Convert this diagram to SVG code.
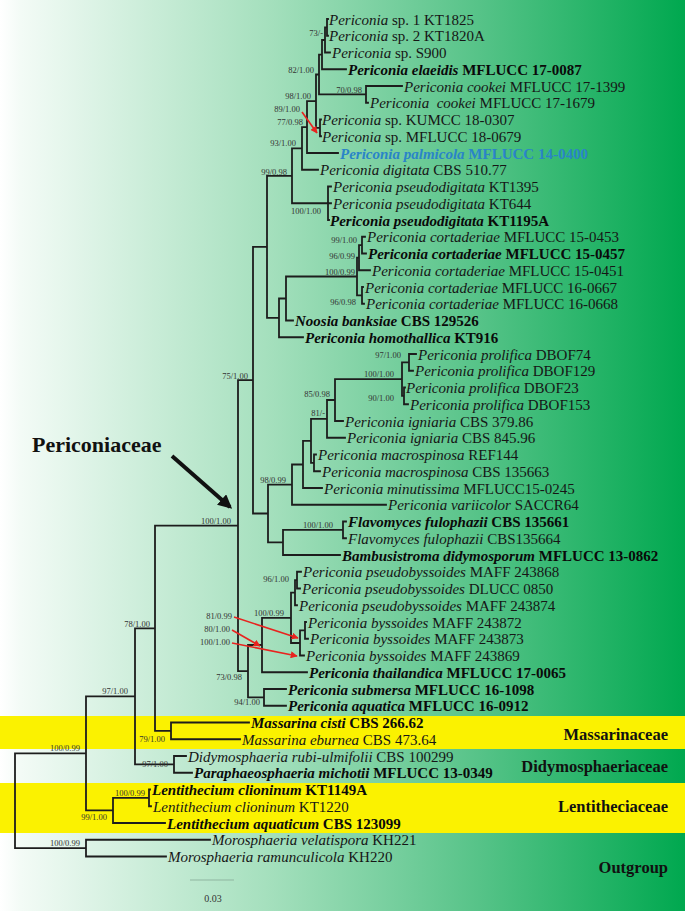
<svg xmlns="http://www.w3.org/2000/svg" width="685" height="911" viewBox="0 0 685 911">
<defs>
<linearGradient id="bg" x1="0" y1="0" x2="1" y2="0">
<stop offset="0" stop-color="#ffffff"/>
<stop offset="0.03" stop-color="#f3fbf6"/>
<stop offset="0.4" stop-color="#a3dfbc"/>
<stop offset="0.7" stop-color="#56c388"/>
<stop offset="1" stop-color="#00a84f"/>
</linearGradient>
<marker id="rh" viewBox="0 0 10 10" refX="9" refY="5" markerWidth="7" markerHeight="7" orient="auto" markerUnits="userSpaceOnUse">
<path d="M0,0 L10,5 L0,10 z" fill="#e8231f"/>
</marker>
<marker id="bh" viewBox="0 0 10 10" refX="8" refY="5" markerWidth="14" markerHeight="14" orient="auto" markerUnits="userSpaceOnUse">
<path d="M0,0 L10,5 L0,10 z" fill="#111"/>
</marker>
</defs>
<style>
text{font-family:"Liberation Serif","Times New Roman",serif}
.tx{font-size:15px;fill:#161616}
.b{font-weight:bold;fill:#0a0a0a}
.i{font-style:italic}
.pal{fill:#2a84c8}
.s{font-size:8.5px;fill:#333;text-anchor:end}
.fam{font-size:16.5px;font-weight:bold;fill:#111;text-anchor:end}
.br{fill:none;stroke:#1d1d1d;stroke-width:1.8;stroke-linecap:square}
.ra{fill:none;stroke:#e8231f;stroke-width:1.6;marker-end:url(#rh)}
</style>
<rect x="0" y="0" width="685" height="911" fill="url(#bg)"/>
<rect x="0" y="716" width="685" height="33" fill="#fbf200"/>
<rect x="0" y="783" width="685" height="50" fill="#fbf200"/>

<g id="connectors">
<path class="br" d="M327,19V35.75M327,19H328M327,35.75H328
M325,27.4V52.5M325,27.4H327M325,52.5H330
M322,40V69.25M322,40H325M322,69.25H346
M366,86V102.75M366,86H402M366,102.75H368
M319,54.6V94.4M319,54.6H322M319,94.4H366
M320,119.5V136.25M320,119.5H321M320,136.25H321
M316,74.5V127.9M316,74.5H319M316,127.9H320
M307,101.2V153M307,101.2H316M307,153H338
M302,127.1V169.75M302,127.1H307M302,169.75H318
M328,186.5V220M328,186.5H331M328,203.25H331M328,220H329
M292,148.4V203.25M292,148.4H302M292,203.25H328
M362,236.75V253.5M362,236.75H365M362,253.5H366
M359,245.1V270.25M359,245.1H362M359,270.25H370
M362,287V303.75M362,287H363M362,303.75H364
M357,257.7V295.4M357,257.7H359M357,295.4H362
M286,276.5V320.5M286,276.5H357M286,320.5H293
M279,298.5V337.25M279,298.5H286M279,337.25H303
M267,175.8V317.9M267,175.8H292M267,317.9H279
M409,354V370.75M409,354H416M409,370.75H413
M404,387.5V404.25M404,387.5H405M404,404.25H408
M402,362.4V395.9M402,362.4H409M402,395.9H404
M335,379.1V421M335,379.1H402M335,421H343
M327,400V437.75M327,400H335M327,437.75H345
M314,454.5V471.25M314,454.5H316M314,471.25H320
M311,418.9V462.9M311,418.9H327M311,462.9H314
M303,440.9V488M303,440.9H311M303,488H322
M292,464.5V504.75M292,464.5H303M292,504.75H386
M343,521.5V538.25M343,521.5H346M343,538.25H346
M283,529.9V555M283,529.9H343M283,555H340
M268,484.6V542.4M268,484.6H292M268,542.4H283
M253,246.9V513.5M253,246.9H267M253,513.5H268
M297,571.75V588.5M297,571.75H301M297,588.5H300
M295,580.1V605.25M295,580.1H297M295,605.25H297
M305,622V638.75M305,622H306M305,638.75H308
M300,630.4V655.5M300,630.4H305M300,655.5H304
M291,592.7V643M291,592.7H295M291,643H300
M262,617.8V672.25M262,617.8H291M262,672.25H307
M264,689V705.75M264,689H286M264,705.75H286
M248,645V697.4M248,645H262M248,697.4H264
M238,380.2V671.2M238,380.2H253M238,671.2H248
M171,722.5V739.25M171,722.5H249M171,739.25H240
M155,525.7V730.9M155,525.7H238M155,730.9H171
M174,756V772.75M174,756H186M174,772.75H192
M135,628.3V764.4M135,628.3H155M135,764.4H174
M149,789.5V806.25M149,789.5H150M149,806.25H151
M113,797.9V823M113,797.9H149M113,823H165
M86,696.3V810.4M86,696.3H135M86,810.4H113
M86,839.75V856.5M86,839.75H210M86,856.5H166
M15,753.4V848.1M15,753.4H86M15,848.1H86"/>
<path class="ra" d="M302,112L317,133"/>
<path class="ra" d="M234,617L298,638"/>
<path class="ra" d="M232,630L260,646"/>
<path class="ra" d="M232,643L297,656"/>
<path d="M172,456L230,507" fill="none" stroke="#111" stroke-width="4" marker-end="url(#bh)"/>
</g>

<g id="supports">
<text class="s" x="323" y="36">73/-</text>
<text class="s" x="314" y="73">82/1.00</text>
<text class="s" x="362" y="92.5">70/0.98</text>
<text class="s" x="311" y="99">98/1.00</text>
<text class="s" x="300" y="112">89/1.00</text>
<text class="s" x="303" y="125">77/0.98</text>
<text class="s" x="296" y="146">93/1.00</text>
<text class="s" x="287" y="175">99/0.98</text>
<text class="s" x="321" y="214">100/1.00</text>
<text class="s" x="357" y="243">99/1.00</text>
<text class="s" x="355" y="259">96/0.99</text>
<text class="s" x="355" y="275">100/0.99</text>
<text class="s" x="356" y="305">96/0.98</text>
<text class="s" x="248" y="379">75/1.00</text>
<text class="s" x="401" y="358">97/1.00</text>
<text class="s" x="394" y="377">100/1.00</text>
<text class="s" x="394" y="401">90/1.00</text>
<text class="s" x="330" y="397">85/0.98</text>
<text class="s" x="325" y="416">81/-</text>
<text class="s" x="286" y="483">98/0.99</text>
<text class="s" x="333" y="528">100/1.00</text>
<text class="s" x="231" y="524">100/1.00</text>
<text class="s" x="289" y="582">96/1.00</text>
<text class="s" x="284" y="616">100/0.99</text>
<text class="s" x="232" y="619">81/0.99</text>
<text class="s" x="230" y="632">80/1.00</text>
<text class="s" x="230" y="645">100/1.00</text>
<text class="s" x="242" y="680">73/0.98</text>
<text class="s" x="260" y="705">94/1.00</text>
<text class="s" x="150" y="627">78/1.00</text>
<text class="s" x="128" y="694">97/1.00</text>
<text class="s" x="165" y="742">79/1.00</text>
<text class="s" x="168" y="767">97/1.00</text>
<text class="s" x="80" y="751">100/0.99</text>
<text class="s" x="145" y="796">100/0.99</text>
<text class="s" x="107" y="820">99/1.00</text>
<text class="s" x="80" y="846">100/0.99</text>
</g>

<g id="t01"><text class="tx" x="329" y="24.5"><tspan class="i">Periconia</tspan> sp. 1 KT1825</text></g>
<g id="t02"><text class="tx" x="329" y="41.25"><tspan class="i">Periconia</tspan> sp. 2 KT1820A</text></g>
<g id="t03"><text class="tx" x="332" y="58"><tspan class="i">Periconia</tspan> sp. S900</text></g>
<g id="t04"><text class="tx b" x="348" y="74.75"><tspan class="i">Periconia elaeidis</tspan> MFLUCC 17-0087</text></g>
<g id="t05"><text class="tx" x="404" y="91.5"><tspan class="i">Periconia cookei</tspan> MFLUCC 17-1399</text></g>
<g id="t06"><text class="tx" x="370" y="108.25"><tspan class="i">Periconia&#160; cookei</tspan> MFLUCC 17-1679</text></g>
<g id="t07"><text class="tx" x="322" y="125"><tspan class="i">Periconia</tspan> sp. KUMCC 18-0307</text></g>
<g id="t08"><text class="tx" x="322" y="141.75"><tspan class="i">Periconia</tspan> sp. MFLUCC 18-0679</text></g>
<g id="t09"><text class="tx b pal" x="340" y="158.5"><tspan class="i">Periconia palmicola</tspan> MFLUCC 14-0400</text></g>
<g id="t10"><text class="tx" x="320" y="175.25"><tspan class="i">Periconia digitata</tspan> CBS 510.77</text></g>
<g id="t11"><text class="tx" x="333" y="192"><tspan class="i">Periconia pseudodigitata</tspan> KT1395</text></g>
<g id="t12"><text class="tx" x="333" y="208.75"><tspan class="i">Periconia pseudodigitata</tspan> KT644</text></g>
<g id="t13"><text class="tx b" x="330" y="225.5"><tspan class="i">Periconia pseudodigitata</tspan> KT1195A</text></g>
<g id="t14"><text class="tx" x="367" y="242.25"><tspan class="i">Periconia cortaderiae</tspan> MFLUCC 15-0453</text></g>
<g id="t15"><text class="tx b" x="368" y="259"><tspan class="i">Periconia cortaderiae</tspan> MFLUCC 15-0457</text></g>
<g id="t16"><text class="tx" x="372" y="275.75"><tspan class="i">Periconia cortaderiae</tspan> MFLUCC 15-0451</text></g>
<g id="t17"><text class="tx" x="365" y="292.5"><tspan class="i">Periconia cortaderiae</tspan> MFLUCC 16-0667</text></g>
<g id="t18"><text class="tx" x="366" y="309.25"><tspan class="i">Periconia cortaderiae</tspan> MFLUCC 16-0668</text></g>
<g id="t19"><text class="tx b" x="295" y="326"><tspan class="i">Noosia banksiae</tspan> CBS 129526</text></g>
<g id="t20"><text class="tx b" x="305" y="342.75"><tspan class="i">Periconia homothallica</tspan> KT916</text></g>
<g id="t21"><text class="tx" x="418" y="359.5"><tspan class="i">Periconia prolifica</tspan> DBOF74</text></g>
<g id="t22"><text class="tx" x="415" y="376.25"><tspan class="i">Periconia prolifica</tspan> DBOF129</text></g>
<g id="t23"><text class="tx" x="406" y="393"><tspan class="i">Periconia prolifica</tspan> DBOF23</text></g>
<g id="t24"><text class="tx" x="410" y="409.75"><tspan class="i">Periconia prolifica</tspan> DBOF153</text></g>
<g id="t25"><text class="tx" x="345" y="426.5"><tspan class="i">Periconia igniaria</tspan> CBS 379.86</text></g>
<g id="t26"><text class="tx" x="347" y="443.25"><tspan class="i">Periconia igniaria</tspan> CBS 845.96</text></g>
<g id="t27"><text class="tx" x="318" y="460"><tspan class="i">Periconia macrospinosa</tspan> REF144</text></g>
<g id="t28"><text class="tx" x="322" y="476.75"><tspan class="i">Periconia macrospinosa</tspan> CBS 135663</text></g>
<g id="t29"><text class="tx" x="324" y="493.5"><tspan class="i">Periconia minutissima</tspan> MFLUCC15-0245</text></g>
<g id="t30"><text class="tx" x="388" y="510.25"><tspan class="i">Periconia variicolor</tspan> SACCR64</text></g>
<g id="t31"><text class="tx b" x="348" y="527"><tspan class="i">Flavomyces fulophazii</tspan> CBS 135661</text></g>
<g id="t32"><text class="tx" x="348" y="543.75"><tspan class="i">Flavomyces fulophazii</tspan> CBS135664</text></g>
<g id="t33"><text class="tx b" x="342" y="560.5"><tspan class="i">Bambusistroma didymosporum</tspan> MFLUCC 13-0862</text></g>
<g id="t34"><text class="tx" x="303" y="577.25"><tspan class="i">Periconia pseudobyssoides</tspan> MAFF 243868</text></g>
<g id="t35"><text class="tx" x="302" y="594"><tspan class="i">Periconia pseudobyssoides</tspan> DLUCC 0850</text></g>
<g id="t36"><text class="tx" x="299" y="610.75"><tspan class="i">Periconia pseudobyssoides</tspan> MAFF 243874</text></g>
<g id="t37"><text class="tx" x="308" y="627.5"><tspan class="i">Periconia byssoides</tspan> MAFF 243872</text></g>
<g id="t38"><text class="tx" x="310" y="644.25"><tspan class="i">Periconia byssoides</tspan> MAFF 243873</text></g>
<g id="t39"><text class="tx" x="306" y="661"><tspan class="i">Periconia byssoides</tspan> MAFF 243869</text></g>
<g id="t40"><text class="tx b" x="309" y="677.75"><tspan class="i">Periconia thailandica</tspan> MFLUCC 17-0065</text></g>
<g id="t41"><text class="tx b" x="288" y="694.5"><tspan class="i">Periconia submersa</tspan> MFLUCC 16-1098</text></g>
<g id="t42"><text class="tx b" x="288" y="711.25"><tspan class="i">Periconia aquatica</tspan> MFLUCC 16-0912</text></g>
<g id="t43"><text class="tx b" x="251" y="728"><tspan class="i">Massarina cisti</tspan> CBS 266.62</text></g>
<g id="t44"><text class="tx" x="242" y="744.75" fill="#4a4520"><tspan class="i">Massarina eburnea</tspan> CBS 473.64</text></g>
<g id="t45"><text class="tx" x="188" y="761.5"><tspan class="i">Didymosphaeria rubi-ulmifolii</tspan> CBS 100299</text></g>
<g id="t46"><text class="tx b" x="194" y="778.25"><tspan class="i">Paraphaeosphaeria michotii</tspan> MFLUCC 13-0349</text></g>
<g id="t47"><text class="tx b" x="152" y="795"><tspan class="i">Lentithecium clioninum</tspan> KT1149A</text></g>
<g id="t48"><text class="tx" x="153" y="811.75" fill="#4a4520"><tspan class="i">Lentithecium clioninum</tspan> KT1220</text></g>
<g id="t49"><text class="tx b" x="167" y="828.5"><tspan class="i">Lentithecium aquaticum</tspan> CBS 123099</text></g>
<g id="t50"><text class="tx" x="212" y="845.25"><tspan class="i">Morosphaeria velatispora</tspan> KH221</text></g>
<g id="t51"><text class="tx" x="168" y="862"><tspan class="i">Morosphaeria ramunculicola</tspan> KH220</text></g>

<g id="fam-periconiaceae"><text x="32" y="452" font-size="22" font-weight="bold" fill="#111">Periconiaceae</text></g>
<g id="fam-massarinaceae"><text class="fam" x="668" y="740">Massarinaceae</text></g>
<g id="fam-didymosphaeriaceae"><text class="fam" x="668" y="772">Didymosphaeriaceae</text></g>
<g id="fam-lentitheciaceae"><text class="fam" x="668" y="812">Lentitheciaceae</text></g>
<g id="fam-outgroup"><text class="fam" x="668" y="873">Outgroup</text></g>

<g id="scale">
<path d="M190,880H234" stroke="#8fb5a0" stroke-width="1" fill="none"/>
<text x="213" y="902" font-size="10" fill="#333" text-anchor="middle">0.03</text>
</g>
</svg>
